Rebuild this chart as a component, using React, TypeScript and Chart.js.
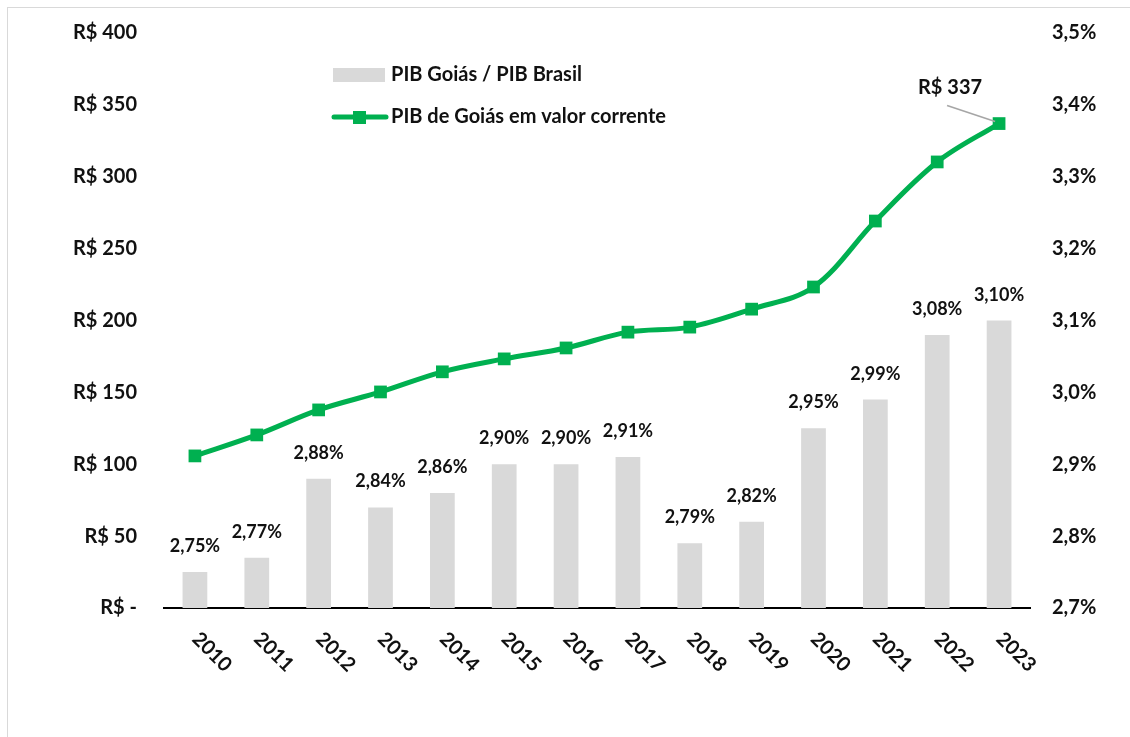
import React, { useEffect, useRef } from "react";
import { Chart, registerables } from "chart.js";

Chart.register(...registerables);

const years = ["2010", "2011", "2012", "2013", "2014", "2015", "2016", "2017", "2018", "2019", "2020", "2021", "2022", "2023"];
const shareValues = [2.75, 2.77, 2.88, 2.84, 2.86, 2.9, 2.9, 2.91, 2.79, 2.82, 2.95, 2.99, 3.08, 3.1];
const gdpValues = [105.8, 120.4, 137.8, 150.3, 164.3, 173.3, 180.9, 191.9, 195.4, 207.9, 223.3, 269.2, 310.3, 337];
const shareLabel = "PIB Goiás / PIB Brasil";
const gdpLabel = "PIB de Goiás em valor corrente";

const FONT = "Lato, 'Liberation Sans', sans-serif";
const TEXT = "#111111";
const GREEN = "#00B050";
const GRAY = "#D9D9D9";

const fmtMoney = (v: number) => (v === 0 ? "R$ -" : "R$ " + Math.round(v));
const fmtPct1 = (v: number) => v.toFixed(1).replace(".", ",") + "%";
const fmtPct2 = (v: number) => v.toFixed(2).replace(".", ",") + "%";

const drawPlugin = {
  id: "customDraw",
  beforeDraw(chart: any) {
    const ctx = chart.ctx;
    ctx.save();
    ctx.fillStyle = "#ffffff";
    ctx.fillRect(0, 0, chart.width, chart.height);
    ctx.strokeStyle = GRAY;
    ctx.lineWidth = 1;
    ctx.strokeRect(7.5, 7.5, chart.width + 100, chart.height + 100);
    ctx.restore();
  },
  afterDatasetsDraw(chart: any) {
    const ctx = chart.ctx;
    ctx.save();
    const barMeta = chart.getDatasetMeta(1);
    ctx.fillStyle = TEXT;
    ctx.font = `bold 18px ${FONT}`;
    ctx.textAlign = "center";
    ctx.textBaseline = "alphabetic";
    barMeta.data.forEach((el: any, i: number) => {
      ctx.fillText(fmtPct2(shareValues[i]), el.x, el.y - 20);
    });
    const lineMeta = chart.getDatasetMeta(0);
    const last = lineMeta.data[lineMeta.data.length - 1];
    ctx.strokeStyle = "#A6A6A6";
    ctx.lineWidth = 1.5;
    ctx.beginPath();
    ctx.moveTo(last.x - 52, last.y - 18);
    ctx.lineTo(last.x - 4, last.y - 2);
    ctx.stroke();
    ctx.font = `bold 20px ${FONT}`;
    ctx.textBaseline = "middle";
    ctx.fillText(fmtMoney(gdpValues[gdpValues.length - 1]), last.x - 49, last.y - 36);
    ctx.restore();
  },
  afterDraw(chart: any) {
    const ctx = chart.ctx;
    const xs = chart.scales.x;
    const area = chart.chartArea;
    ctx.save();
    ctx.fillStyle = TEXT;
    ctx.font = `bold 20px ${FONT}`;
    ctx.textAlign = "center";
    ctx.textBaseline = "middle";
    years.forEach((y, i) => {
      const x = xs.getPixelForValue(i);
      ctx.save();
      ctx.translate(x + 17, area.bottom + 44);
      ctx.rotate(Math.PI / 4);
      ctx.fillText(y, 0, 0);
      ctx.restore();
    });
    ctx.fillStyle = GRAY;
    ctx.fillRect(333, 68, 52, 14);
    ctx.strokeStyle = GREEN;
    ctx.lineWidth = 5;
    ctx.lineCap = "round";
    ctx.beginPath();
    ctx.moveTo(334, 117);
    ctx.lineTo(386, 117);
    ctx.stroke();
    ctx.fillStyle = GREEN;
    ctx.fillRect(353, 111, 13, 13);
    ctx.fillStyle = TEXT;
    ctx.textAlign = "left";
    ctx.fillText(shareLabel, 391, 75);
    ctx.fillText(gdpLabel, 391, 117);
    ctx.restore();
  },
};

export default function App() {
  const ref = useRef<HTMLCanvasElement | null>(null);
  useEffect(() => {
    document.body.style.margin = "0";
    if (!ref.current) return;
    const chart = new Chart(ref.current, {
      type: "bar",
      data: {
        labels: years,
        datasets: [
          {
            type: "line",
            label: gdpLabel,
            data: gdpValues,
            yAxisID: "yL",
            borderColor: GREEN,
            backgroundColor: GREEN,
            borderWidth: 5,
            pointStyle: "rect",
            pointRadius: 9,
            pointBackgroundColor: GREEN,
            pointBorderWidth: 0,
            tension: 0.35,
            order: 0,
          } as any,
          {
            type: "bar",
            label: shareLabel,
            data: shareValues,
            yAxisID: "yR",
            backgroundColor: GRAY,
            categoryPercentage: 1,
            barPercentage: 0.4,
            order: 1,
          } as any,
        ],
      },
      options: {
        responsive: false,
        animation: false,
        layout: { padding: { top: 33, left: 0, right: 0, bottom: 0 } },
        plugins: { legend: { display: false }, tooltip: { enabled: false } },
        scales: {
          x: {
            grid: { display: false, drawTicks: false },
            border: { display: true, color: "#000000", width: 2 },
            ticks: { display: false },
            afterFit: (s: any) => {
              s.height = 129;
              s.paddingLeft = 0;
              s.paddingRight = 0;
            },
          },
          yL: {
            position: "left",
            min: 0,
            max: 400,
            grid: { display: false, drawTicks: false },
            border: { display: false },
            ticks: {
              stepSize: 50,
              padding: 27,
              color: TEXT,
              font: { family: FONT, size: 20, weight: "bold" },
              callback: (v: any) => fmtMoney(Number(v)),
            },
            afterFit: (s: any) => {
              s.width = 164;
              s.paddingTop = 0;
              s.paddingBottom = 0;
            },
          },
          yR: {
            position: "right",
            min: 2.7,
            max: 3.5,
            grid: { display: false, drawTicks: false },
            border: { display: false },
            ticks: {
              stepSize: 0.1,
              padding: 22,
              color: TEXT,
              font: { family: FONT, size: 20, weight: "bold" },
              callback: (v: any) => fmtPct1(Number(v)),
            },
            afterFit: (s: any) => {
              s.width = 100;
              s.paddingTop = 0;
              s.paddingBottom = 0;
            },
          },
        },
      } as any,
      plugins: [drawPlugin],
    });
    return () => chart.destroy();
  }, []);
  return <canvas ref={ref} width={1130} height={737} style={{ display: "block" }} />;
}
